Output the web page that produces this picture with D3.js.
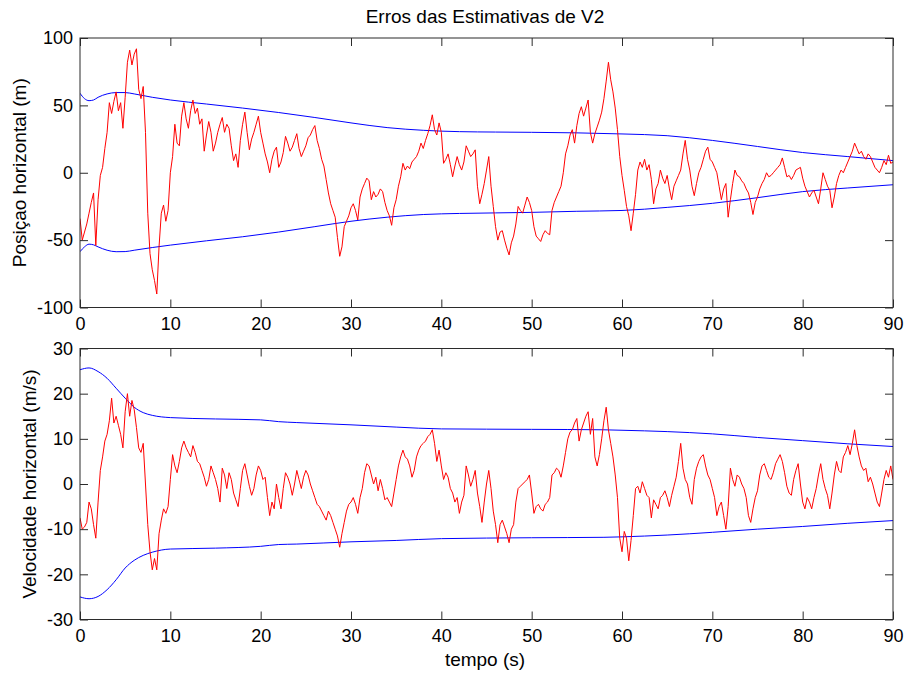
<!DOCTYPE html>
<html>
<head>
<meta charset="utf-8">
<script src="https://cdn.jsdelivr.net/npm/d3@7"></script>
<style>
  html, body { margin: 0; padding: 0; background: #ffffff; }
  svg { display: block; }
  text { font-family: "Liberation Sans", Arial, Helvetica, sans-serif; fill: #000; }
</style>
</head>
<body>
<svg id="fig" width="905" height="675"></svg>
<script>
// ---- data -------------------------------------------------------------
const titleText = "Erros das Estimativas de V2";
const xLabelText = "tempo (s)";
const yLabelPos = "Posiçao horizontal (m)";
const yLabelVel = "Velocidade horizontal (m/s)";

const xTicks = [0, 10, 20, 30, 40, 50, 60, 70, 80, 90];
const yTicksPos = [-100, -50, 0, 50, 100];
const yTicksVel = [-30, -20, -10, 0, 10, 20, 30];

// sample interval of the error series (s)
const dt = 0.25;

// horizontal position error (m), one value every dt from 0 to 90 s
const posError = [
  -34,-50,-44,-38,-30,-22,-15,-54,-20,-2,4,18,30,52,44,53,60,46,52,33,
  56,82,91,80,88,92,62,55,64,30,-30,-60,-72,-80,-90,-55,-30,-24,-36,-28,
  0,12,36,22,20,42,52,40,33,46,54,44,48,36,40,16,28,38,30,16,
  22,30,36,41,30,36,33,20,9,14,4,24,36,45,30,17,25,30,36,42,
  30,22,14,8,0,10,16,19,4,8,15,27,22,16,19,24,29,18,12,16,
  20,26,28,32,35,24,18,10,5,-5,-15,-23,-28,-33,-48,-62,-55,-40,-36,-32,
  -26,-23,-28,-35,-18,-12,-8,-4,-6,-20,-14,-18,-16,-12,-14,-22,-28,-32,-39,-26,
  -20,-10,-3,7,2,5,3,8,10,12,16,22,18,24,29,35,43,32,28,37,
  30,7,10,14,6,-3,5,12,6,2,8,20,16,12,14,17,-10,-23,-16,-8,
  2,12,-10,-25,-40,-50,-44,-43,-50,-56,-61,-52,-47,-38,-25,-28,-30,-24,-18,-22,
  -28,-40,-47,-49,-51,-46,-43,-45,-46,-28,-22,-18,-14,-10,0,14,20,28,32,22,
  35,44,49,42,48,54,30,22,29,34,39,45,55,68,82,69,60,48,32,12,
  -2,-13,-25,-32,-43,-30,-16,2,8,4,10,2,6,-5,-23,-12,-8,2,-4,-8,
  -2,-12,-20,-10,-6,-2,2,14,24,10,2,-10,-17,-8,0,4,10,16,19,10,
  8,4,0,-10,-20,-12,-8,-33,-20,-8,2,-2,-3,-6,-8,-12,-15,-22,-31,-22,
  -18,-12,-8,-5,0,-3,-2,0,2,4,6,11,4,-3,-2,-5,-2,2,3,4,
  -4,-10,-14,-18,-15,-13,-18,-23,-12,0,-5,-10,-13,-26,-18,-8,-2,2,0,4,
  8,12,16,22,18,14,16,12,10,14,12,8,4,2,0,4,9,6,13,7,
  8
];

// horizontal velocity error (m/s), one value every dt from 0 to 90 s
const velError = [
  -7.5,-10,-9.5,-8.5,-4,-5.5,-9,-12,-4,3,6,9.5,11,14,19,13.5,15,13,11,8,
  16,20,15,18.5,16.5,12.5,8,7,9,0,-9,-15,-19,-16.5,-19,-11,-8,-5.5,-6.5,-5,
  1,6.5,4,2.5,5,8,9.5,8,7,6,8.5,7,5,4.5,3,1.5,-0.5,1,4,2.5,
  1,-1,-4,3.5,2,-1,2.5,1,-2,-3.5,-5,-1,3,4.5,2,-0.5,-2.5,-1,2,4,
  3,1,1.5,-3,-7,-4,-5.5,0,-3,-5.5,-1,2.5,1.5,0,-2.5,0,3,1,-1,1.5,
  3,2,0,-1.5,-3,-4.5,-5,-6,-7,-8,-6,-7,-8.5,-10,-11.5,-14,-11,-8.5,-6,-4.5,
  -4,-3,-4.5,-6.5,-3,-1,2.5,4.5,4,2,0,1.5,-1.5,1,-1,-3.5,-3,-4,-5,-2,
  1,4,6,7.5,6,5.5,4,1.5,3,6,7.5,8.5,9,9.5,10.5,11,12,9,5,7.5,
  4,1,2.5,1.5,-1,-2,-4,-3,-6.5,-4,-2.5,4,2,-0.5,1,3,-2,-5,-8.5,-4,
  0,3,-1,-6,-9,-13,-9,-8,-9.5,-11,-13,-10,-9,-4,-1,-0.5,0,0.5,1,2,
  -2,-6.5,-5,-4.5,-5.5,-6,-4.5,-4,-3,2,2.5,3.5,3,1.5,4,7,10,11.5,12,13.5,
  14.5,9.5,12,13.5,15,16,11,14.5,6,4,6.5,10,14,17,12,9,6,2,-3,-12,
  -15,-10.5,-12,-17,-12.5,-7,-1,-0.5,-2,0.5,-1,-2.5,-3,-7.5,-3.5,-4.5,-5.5,-3,-2.5,-1.5,
  -3,-5,-2.5,-0.5,1.5,5,9,3.5,1,0,-3,-4.5,1,3.5,5,6,6.5,4,2,1,
  -1,-3,-7,-5,-4,-7,-10,-5,3.5,1,-0.5,2,1.5,0,-1,-3,-7,-8.5,-5.5,-3,
  -1.5,2,4,4.5,3,1.5,1,2.5,4.5,5.5,6.5,5,2.5,-0.5,-2,-2.5,1,3,4.5,0,
  -4,-5.5,-3,-4,-5.5,-3,-1,2,4.5,1,-1,-2.5,-5.5,-2,2,5,3,2.5,6,7,
  8.5,6.5,9,12,8.5,6,4,3,3.5,0.5,1.5,0,-2,-4,-5,-2,1,3,1.5,4,
  1
];

// error bounds for position (m)
const boundTimesPos = [0,0.5,1,1.5,2,3,4,5,6,8,10,14,18,22,26,30,34,38,42,46,50,55,60,65,70,75,80,85,90];
const posUpper = [59,55,53.5,54,56,58.5,59.5,59.5,58.5,56,54,51,48,44.7,41,37,33.5,31.5,30.5,30.2,30,29.6,28.8,27.5,24,19.5,15,12,9];
const posLower = [-58.6,-55,-53,-53.5,-55,-57.5,-58.6,-58.5,-57.5,-55.5,-53.7,-50.5,-47.5,-44,-40,-36,-33,-31,-30.2,-29.8,-29.4,-28.6,-28,-25.7,-22.7,-18.5,-14,-11.3,-8.9];

// error bounds for velocity (m/s)
const boundTimesVel = [0,1,2,3,4,5,6,7,8,10,15,20,22,24,30,35,40,50,58,60,65,70,75,80,85,90];
const velUpper = [25.3,25.7,24.9,23.4,21.2,19,17,15.8,15.2,14.7,14.4,14.2,13.8,13.6,13.1,12.6,12.2,12.1,12,11.9,11.6,11.1,10.3,9.6,8.9,8.3];
const velLower = [-25,-25.4,-24.9,-23.4,-21.2,-18.6,-16.9,-15.8,-15.1,-14.4,-14.2,-13.8,-13.4,-13.3,-12.8,-12.5,-12.1,-11.9,-11.8,-11.7,-11.3,-10.7,-10,-9.4,-8.7,-8.1];

// ---- layout -----------------------------------------------------------
const svg = d3.select("#fig");
const left = 80, right = 893;
const panels = [
  { top: 38,    bottom: 307.5, domain: [-100, 100], ticks: yTicksPos, label: yLabelPos, labelX: 26,
    series: posError, bTimes: boundTimesPos, upper: posUpper, lower: posLower },
  { top: 348.5, bottom: 619.5, domain: [-30, 30],   ticks: yTicksVel, label: yLabelVel, labelX: 36,
    series: velError, bTimes: boundTimesVel, upper: velUpper, lower: velLower }
];

const x = d3.scaleLinear().domain([0, 90]).range([left, right]);
const axisColor = "#2b2b2b";
const tickLen = 8;
// plain hyphen-minus for negative tick labels
const plainNum = d => String(d);

panels.forEach((p, i) => {
  const y = d3.scaleLinear().domain(p.domain).range([p.bottom, p.top]);
  const g = svg.append("g");

  const clipId = "clip" + i;
  svg.append("clipPath").attr("id", clipId)
    .append("rect").attr("x", left).attr("y", p.top)
    .attr("width", right - left).attr("height", p.bottom - p.top);

  const plot = g.append("g").attr("clip-path", `url(#${clipId})`);

  // bound curves
  const bLine = d3.line().x(d => x(d[0])).y(d => y(d[1])).curve(d3.curveMonotoneX);
  [p.upper, p.lower].forEach(arr => {
    plot.append("path")
      .datum(p.bTimes.map((t, k) => [t, arr[k]]))
      .attr("d", bLine)
      .attr("fill", "none")
      .attr("stroke", "#0000ff")
      .attr("stroke-width", 1);
  });

  // error series
  const eLine = d3.line().x((d, k) => x(k * dt)).y(d => y(d));
  plot.append("path")
    .datum(p.series)
    .attr("d", eLine)
    .attr("fill", "none")
    .attr("stroke", "#ff0000")
    .attr("stroke-width", 1)
    .attr("stroke-linejoin", "round");

  // axes with inward ticks on all four sides
  const xb = g.append("g").attr("transform", `translate(0,${p.bottom})`)
    .call(d3.axisBottom(x).tickValues(xTicks).tickFormat(plainNum).tickSize(-tickLen).tickSizeOuter(0).tickPadding(10));
  const xt = g.append("g").attr("transform", `translate(0,${p.top})`)
    .call(d3.axisTop(x).tickValues(xTicks).tickSize(-tickLen).tickSizeOuter(0).tickFormat(""));
  const yl = g.append("g").attr("transform", `translate(${left},0)`)
    .call(d3.axisLeft(y).tickValues(p.ticks).tickFormat(plainNum).tickSize(-tickLen).tickSizeOuter(0).tickPadding(7));
  const yr = g.append("g").attr("transform", `translate(${right},0)`)
    .call(d3.axisRight(y).tickValues(p.ticks).tickSize(-tickLen).tickSizeOuter(0).tickFormat(""));

  [xb, xt, yl, yr].forEach(a => {
    a.select(".domain").remove();
    a.selectAll(".tick line").attr("stroke", axisColor);
    a.selectAll("text").attr("font-size", 18).attr("fill", "#000")
      .attr("font-family", "'Liberation Sans', Arial, sans-serif");
  });

  g.append("rect")
    .attr("x", left).attr("y", p.top)
    .attr("width", right - left).attr("height", p.bottom - p.top)
    .attr("fill", "none").attr("stroke", axisColor).attr("stroke-width", 1);

  // y label
  g.append("text")
    .attr("transform", `translate(${p.labelX},${(p.top + p.bottom) / 2}) rotate(-90)`)
    .attr("text-anchor", "middle")
    .attr("font-size", 19)
    .text(p.label);
});

// title and x label
svg.append("text")
  .attr("x", 485).attr("y", 23)
  .attr("text-anchor", "middle")
  .attr("font-size", 19)
  .text(titleText);

svg.append("text")
  .attr("x", 485).attr("y", 666)
  .attr("text-anchor", "middle")
  .attr("font-size", 19)
  .text(xLabelText);
</script>
</body>
</html>
